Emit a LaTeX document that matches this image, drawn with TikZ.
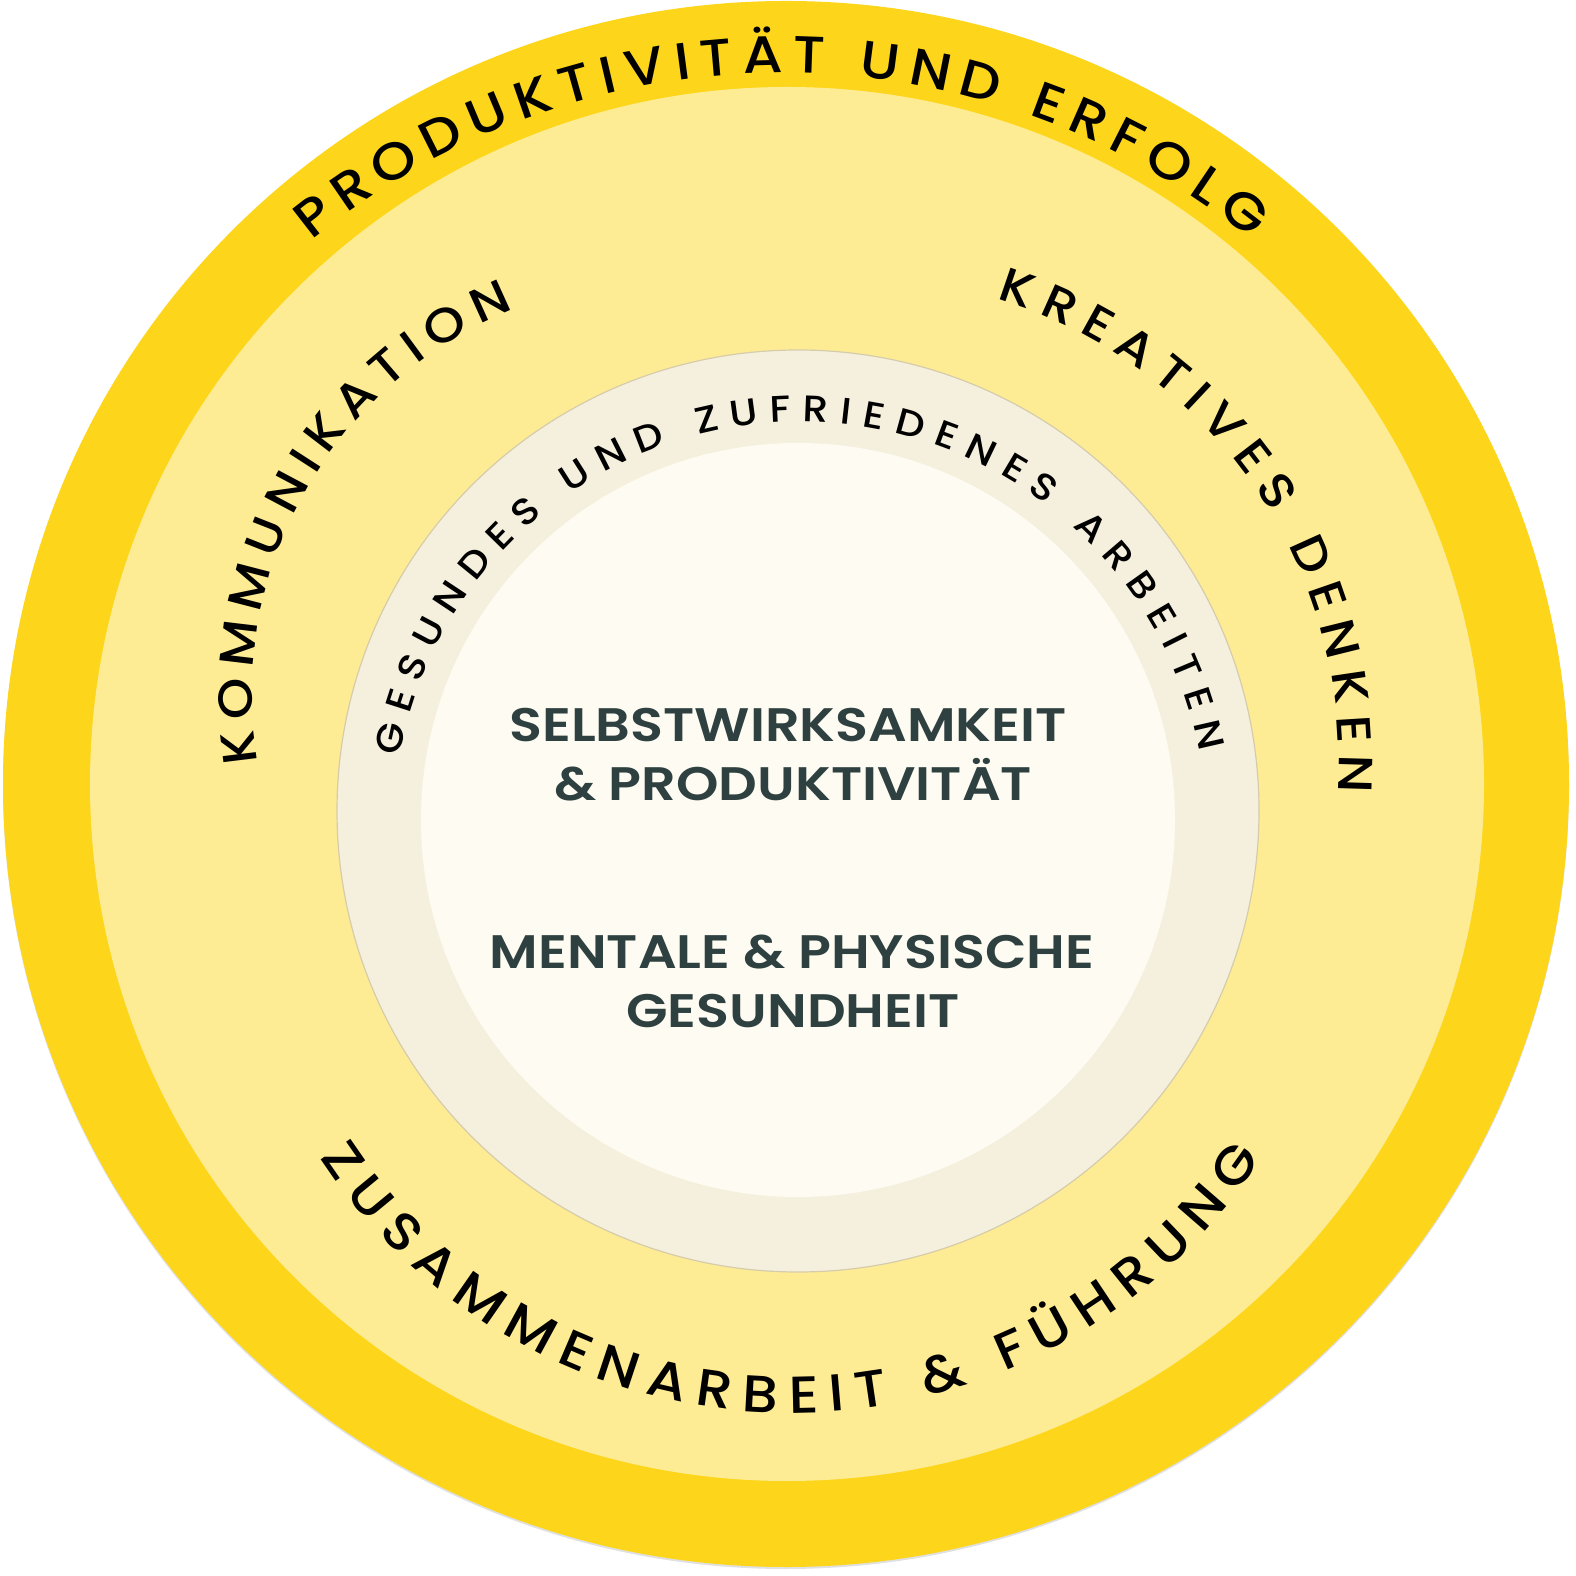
\documentclass[tikz,border=0pt]{standalone}
\usepackage{fontspec}
\newfontfamily\popmed{Poppins Medium}[FakeStretch=1.1]
\newfontfamily\popsemi{Poppins SemiBold}[FakeStretch=1.15]
\definecolor{ringY}{RGB}{253,214,28}
\definecolor{ringL}{RGB}{254,236,149}
\definecolor{ringB}{RGB}{245,240,222}
\definecolor{ringC}{RGB}{254,252,242}
\definecolor{ringEdge}{RGB}{214,204,170}
\definecolor{txtDark}{RGB}{46,64,64}
\tikzset{
  arcchar/.style={anchor=base,inner sep=0pt,text=black},
  centertxt/.style={anchor=base,inner sep=0pt,text=txtDark,font=\popsemi\fontsize{47}{59}\selectfont}
}
% #1 id, #2 font size, #3 cx, #4 cy, #5 baseline radius, #6 start angle, #7 end angle, #8 chars
\newcommand\arctext[8]{%
  \begingroup
  \popmed\fontsize{#2}{#2}\selectfont
  \gdef\atw{0}\gdef\atn{0}%
  \foreach \ch in {#8}{%
    \pgfmathsetmacro\w{width("\ch")}%
    \pgfmathsetmacro\tmp{\atw+\w}\xdef\atw{\tmp}%
    \pgfmathsetmacro\tmp{\atn+1}\xdef\atn{\tmp}%
  }%
  \pgfmathsetmacro\dirv{(#7>#6)?1:-1}%
  \pgfmathsetmacro\arclen{#5*(pi/180)*abs(#7-#6)}%
  \pgfmathsetmacro\gapv{(\arclen-\atw)/(\atn-1)}%
  \gdef\ats{0}%
  \foreach \ch [count=\i] in {#8}{%
    \pgfmathsetmacro\w{width("\ch")}%
    \pgfmathsetmacro\ang{#6+\dirv*((\ats+\w/2)/#5)*(180/pi)}%
    \pgfmathsetmacro\px{#3+#5*cos(\ang)}%
    \pgfmathsetmacro\py{#4+#5*sin(\ang)}%
    \pgfmathsetmacro\rot{\ang+\dirv*90}%
    \node[arcchar,rotate=\rot,font=\popmed\fontsize{#2}{#2}\selectfont] (#1-\i) at (\px,\py) {\ch};
    \pgfmathsetmacro\tmp{\ats+\w+\gapv}\xdef\ats{\tmp}%
  }%
  \endgroup
}
\begin{document}
\begin{tikzpicture}[x=1pt,y=1pt]
\useasboundingbox (0,0) rectangle (1576,1575);
% rings
\fill[black!12] (786,789) circle[radius=783];
\fill[ringY] (786,791) circle[radius=783];
\fill[ringL] (787,791) circle[radius=697];
\filldraw[fill=ringB,draw=ringEdge,line width=1.2pt] (798,764) circle[radius=461];
\fill[ringC] (798,755) circle[radius=377];
% curved labels
\arctext{pe}{52}{782}{758}{744}{129.2}{50.8}{P,R,O,D,U,K,T,I,V,I,T,Ä,T,~,U,N,D,~,E,R,F,O,L,G}
\arctext{ko}{48}{668}{880}{415.5}{189.3}{111.7}{K,O,M,M,U,N,I,K,A,T,I,O,N}
\arctext{kd}{48}{857.7}{815.7}{481}{73.2}{-4.0}{K,R,E,A,T,I,V,E,S,~,D,E,N,K,E,N}
\arctext{gz}{37}{800}{746}{407}{169.7}{10.7}{G,E,S,U,N,D,E,S,~,U,N,D,~,Z,U,F,R,I,E,D,E,N,E,S,~,A,R,B,E,I,T,E,N}
\arctext{zf}{52}{791}{725}{563}{213.1}{326.9}{Z,U,S,A,M,M,E,N,A,R,B,E,I,T,~,\&,~,F,Ü,H,R,U,N,G}
% centre texts
\node[centertxt] (l1) at (788,833.5) {SELBSTWIRKSAMKEIT};
\node[centertxt] (l2) at (793,774.5) {\& PRODUKTIVITÄT};
\node[centertxt] (l3) at (792,606.5) {MENTALE \& PHYSISCHE};
\node[centertxt] (l4) at (793,547.5) {GESUNDHEIT};
\end{tikzpicture}
\end{document}
